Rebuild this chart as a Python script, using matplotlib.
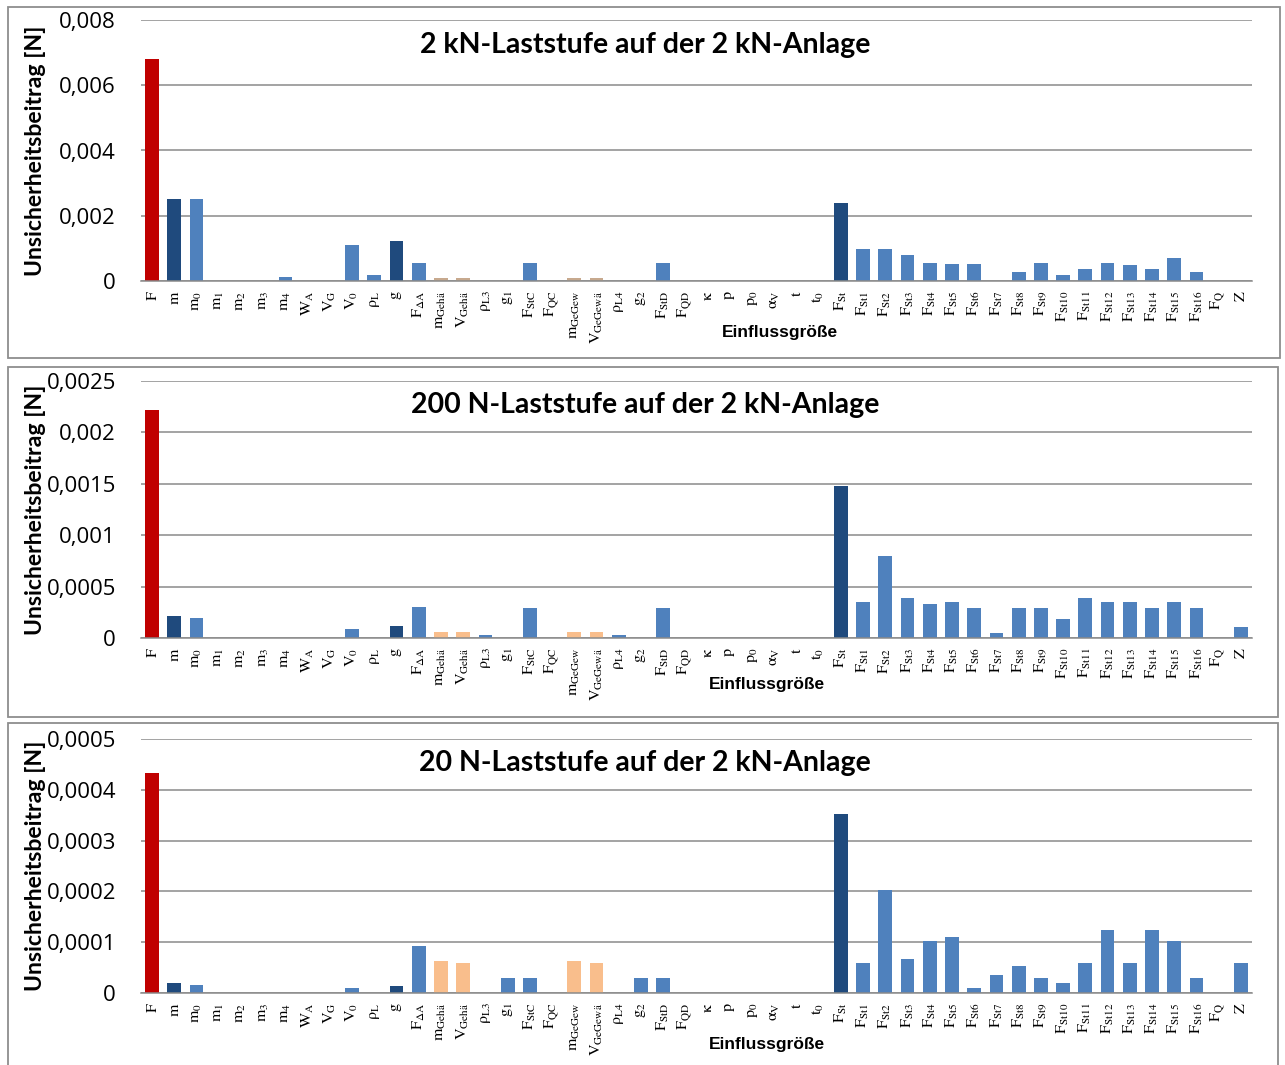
import matplotlib
matplotlib.use("Agg")
import matplotlib.pyplot as plt
from matplotlib.patches import Rectangle

plt.rcParams['mathtext.fontset'] = 'stix'

categories = [
    r'$\mathrm{F}$', r'$\mathrm{m}$', r'$\mathrm{m}_0$', r'$\mathrm{m}_1$', r'$\mathrm{m}_2$',
    r'$\mathrm{m}_3$', r'$\mathrm{m}_4$', r'$\mathrm{W}_\mathrm{A}$', r'$\mathrm{V}_\mathrm{G}$',
    r'$\mathrm{V}_0$', r'$\mathrm{ρ}_\mathrm{L}$', r'$\mathrm{g}$', r'$\mathrm{F}_{\mathrm{ΔA}}$',
    r'$\mathrm{m}_{\mathrm{Gehä}}$', r'$\mathrm{V}_{\mathrm{Gehä}}$', r'$\mathrm{ρ}_{\mathrm{L3}}$',
    r'$\mathrm{g}_1$', r'$\mathrm{F}_{\mathrm{StC}}$', r'$\mathrm{F}_{\mathrm{QC}}$',
    r'$\mathrm{m}_{\mathrm{GeGew}}$', r'$\mathrm{V}_{\mathrm{GeGewä}}$', r'$\mathrm{ρ}_{\mathrm{L4}}$',
    r'$\mathrm{g}_2$', r'$\mathrm{F}_{\mathrm{StD}}$', r'$\mathrm{F}_{\mathrm{QD}}$',
    r'$\mathrm{κ}$', r'$\mathrm{p}$', r'$\mathrm{p}_0$', r'$\mathrm{α}_\mathrm{V}$', r'$\mathrm{t}$',
    r'$\mathrm{t}_0$', r'$\mathrm{F}_{\mathrm{St}}$',
    r'$\mathrm{F}_{\mathrm{St1}}$', r'$\mathrm{F}_{\mathrm{St2}}$', r'$\mathrm{F}_{\mathrm{St3}}$',
    r'$\mathrm{F}_{\mathrm{St4}}$', r'$\mathrm{F}_{\mathrm{St5}}$', r'$\mathrm{F}_{\mathrm{St6}}$',
    r'$\mathrm{F}_{\mathrm{St7}}$', r'$\mathrm{F}_{\mathrm{St8}}$', r'$\mathrm{F}_{\mathrm{St9}}$',
    r'$\mathrm{F}_{\mathrm{St10}}$', r'$\mathrm{F}_{\mathrm{St11}}$', r'$\mathrm{F}_{\mathrm{St12}}$',
    r'$\mathrm{F}_{\mathrm{St13}}$', r'$\mathrm{F}_{\mathrm{St14}}$', r'$\mathrm{F}_{\mathrm{St15}}$',
    r'$\mathrm{F}_{\mathrm{St16}}$', r'$\mathrm{F}_\mathrm{Q}$', r'$\mathrm{Z}$',
]

# colour group per category: r = result, d = dark blue, t = tan, b = blue
groups = ['r', 'd', 'b', 'b', 'b', 'b', 'b', 'b', 'b', 'b', 'b', 'd', 'b',
          't', 't', 'b', 'b', 'b', 'b', 't', 't', 'b', 'b', 'b', 'b',
          'b', 'b', 'b', 'b', 'b', 'b', 'd'] + ['b'] * 18

values_2kN = [0.0068, 0.00252, 0.00252, 0, 0, 0, 0.00013, 0, 0, 0.00110, 0.00018, 0.00123, 0.00055,
              0.0001, 0.0001, 0, 0, 0.00055, 0, 0.0001, 0.0001, 0, 0, 0.00055, 0,
              0, 0, 0, 0, 0, 0, 0.0024,
              0.00099, 0.00099, 0.00081, 0.00056, 0.00052, 0.00052, 0, 0.00028, 0.00056,
              0.00018, 0.00038, 0.00056, 0.00048, 0.00038, 0.00072, 0.00028, 0, 0]

values_200N = [0.00222, 0.000214, 0.000198, 0, 0, 0, 0, 0, 0, 0.00009, 0, 0.00012, 0.000305,
               0.000057, 0.000057, 0.00003, 0, 0.00029, 0, 0.000057, 0.000057, 0.00003, 0, 0.00029, 0,
               0, 0, 0, 0, 0, 0, 0.001477,
               0.00035, 0.0008, 0.00039, 0.00033, 0.00035, 0.00029, 0.000045, 0.00029, 0.00029,
               0.000185, 0.00039, 0.00035, 0.00035, 0.00029, 0.00035, 0.00029, 0, 0.000107]

values_20N = [0.000434, 0.000019, 0.0000165, 0, 0, 0, 0, 0, 0, 0.0000105, 0, 0.000013, 0.0000933,
              0.0000624, 0.0000585, 0, 0.000029, 0.000029, 0, 0.0000624, 0.0000585, 0, 0.000029, 0.000029, 0,
              0, 0, 0, 0, 0, 0, 0.000352,
              0.0000585, 0.000202, 0.0000664, 0.000103, 0.000111, 0.0000105, 0.0000348, 0.0000532, 0.000029,
              0.000019, 0.0000585, 0.000124, 0.0000585, 0.000124, 0.000103, 0.000029, 0, 0.0000585]

titles = ['2 kN-Laststufe auf der 2 kN-Anlage',
          '200 N-Laststufe auf der 2 kN-Anlage',
          '20 N-Laststufe auf der 2 kN-Anlage']
yticks_list = [[0, 0.002, 0.004, 0.006, 0.008],
               [0, 0.0005, 0.001, 0.0015, 0.002, 0.0025],
               [0, 0.0001, 0.0002, 0.0003, 0.0004, 0.0005]]
ytick_labels_list = [['0', '0,002', '0,004', '0,006', '0,008'],
                     ['0', '0,0005', '0,001', '0,0015', '0,002', '0,0025'],
                     ['0', '0,0001', '0,0002', '0,0003', '0,0004', '0,0005']]
ylabel = 'Unsicherheitsbeitrag [N]'
xlabel = 'Einflussgröße'

W, H = 1285, 1065
fig = plt.figure(figsize=(W / 100, H / 100), dpi=100)

# panel layouts (pixels)
frames = [(8, 7, 1280, 358), (8, 367, 1278, 717), (8, 723, 1278, 1080)]
axes_px = [(141, 20, 1252, 281), (141, 381, 1252, 638), (141, 739, 1252, 993)]
xlabel_x = [0.575, 0.563, 0.563]
xlabel_off = [51, 47, 52]

def colors_for(panel):
    tan = '#C7A98E' if panel == 0 else '#F9BE8C'
    cmap = {'r': '#C00000', 'd': '#1F4A7D', 't': tan, 'b': '#4F81BD'}
    return [cmap[g] for g in groups]

all_values = [values_2kN, values_200N, values_20N]

for i in range(3):
    fx0, fy0, fx1, fy1 = frames[i]
    fig.patches.append(Rectangle((fx0 / W, 1 - fy1 / H), (fx1 - fx0) / W, (fy1 - fy0) / H,
                                 transform=fig.transFigure, fill=False,
                                 edgecolor='#8E8E8E', linewidth=1.3, zorder=0))
    x0, y0, x1, y1 = axes_px[i]
    ax = fig.add_axes([x0 / W, 1 - y1 / H, (x1 - x0) / W, (y1 - y0) / H])
    xs = list(range(len(categories)))
    ax.bar(xs, all_values[i], width=0.62, color=colors_for(i), zorder=3)
    ax.set_xlim(-0.5, len(categories) - 0.5)
    ax.set_ylim(yticks_list[i][0], yticks_list[i][-1])
    ax.set_yticks(yticks_list[i])
    ax.set_yticklabels(ytick_labels_list[i], fontsize=16, fontfamily='Open Sans')
    ax.set_xticks(xs)
    ax.set_xticklabels(categories, rotation=90, fontsize=11.5, va='top', ha='center')
    ax.tick_params(axis='both', length=0)
    ax.tick_params(axis='y', pad=18)
    ax.tick_params(axis='x', pad=7)
    ax.grid(axis='y', color='#8A8A8A', linewidth=1.1, zorder=1)
    for s in ['left', 'right', 'top']:
        ax.spines[s].set_visible(False)
    ax.spines['bottom'].set_color('#8A8A8A')
    ax.spines['bottom'].set_linewidth(1.1)
    ax.spines['bottom'].set_zorder(4)
    ax.text(0.4536, 0.905, titles[i], transform=ax.transAxes, ha='center', va='center',
            fontsize=20.5, fontweight='bold', fontfamily='Lato')
    fig.text(xlabel_x[i] * (x1 - x0) / W + x0 / W, 1 - (y1 + xlabel_off[i]) / H, xlabel,
             ha='center', va='center', fontsize=12.5, fontweight='bold', fontfamily='Liberation Sans')
    fig.text(36 / W, 1 - ((y0 + y1) / 2) / H, ylabel, rotation=90, ha='center', va='center',
             fontsize=16.6, fontweight='bold', fontfamily='Lato')

fig.savefig('out.png', dpi=100)
